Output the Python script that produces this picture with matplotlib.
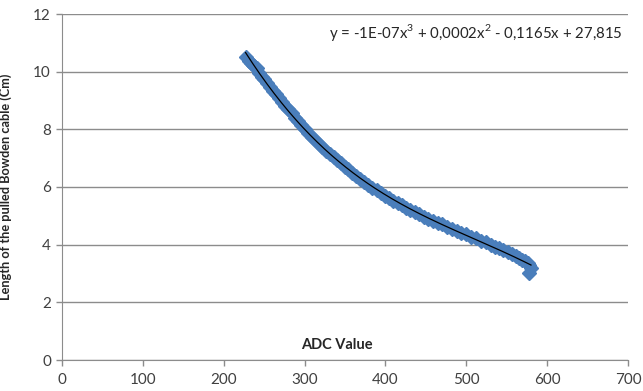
"""
ADC value vs. pulled Bowden cable length, with cubic trendline (Excel-style).
"""

import matplotlib
matplotlib.use("Agg")
import matplotlib.pyplot as plt
import numpy as np

adc_value = [227, 231, 234, 236, 238, 241, 244, 247, 250, 253, 257, 261, 265, 268,
             272, 276, 280, 284, 288, 292, 296, 300, 304, 309, 313, 318, 322, 327,
             331, 336, 340, 345, 350, 354, 359, 364, 369, 374, 379, 384, 389, 394,
             399, 404, 409, 415, 420, 426, 431, 437, 442, 448, 453, 459, 465, 470,
             476, 482, 488, 494, 500, 506, 512, 518, 524, 530, 536, 541, 546, 551,
             556, 561, 565, 569, 573, 576, 578, 580, 578]
cable_length = [10.52, 10.38, 10.30, 10.22, 10.20, 10.12, 9.95, 9.80, 9.74, 9.62,
                9.48, 9.33, 9.22, 9.10, 8.96, 8.82, 8.70, 8.56, 8.40, 8.28, 8.15,
                8.02, 7.88, 7.74, 7.63, 7.50, 7.40, 7.26, 7.16, 7.05, 6.95, 6.82,
                6.71, 6.62, 6.50, 6.39, 6.28, 6.18, 6.07, 5.98, 5.89, 5.80, 5.70,
                5.62, 5.53, 5.45, 5.36, 5.27, 5.21, 5.12, 5.05, 4.97, 4.90, 4.83,
                4.75, 4.71, 4.62, 4.55, 4.48, 4.42, 4.36, 4.28, 4.22, 4.14, 4.08,
                4.00, 3.93, 3.88, 3.80, 3.74, 3.68, 3.62, 3.55, 3.48, 3.42, 3.35,
                3.28, 3.18, 3.03]
x_ticks = [0, 100, 200, 300, 400, 500, 600, 700]
y_ticks = [0, 2, 4, 6, 8, 10, 12]
equation = "y = -1E-07x$^3$ + 0,0002x$^2$ - 0,1165x + 27,815"

plt.rcParams["font.family"] = ["Lato", "DejaVu Sans"]
plt.rcParams["mathtext.fontset"] = "custom"
plt.rcParams["mathtext.rm"] = "Lato"

fig = plt.figure(figsize=(6.43, 3.91), dpi=100)
ax = fig.add_axes([62 / 643, 31 / 391, 566 / 643, 346 / 391])

ax.plot(adc_value, cable_length, linestyle="none", marker="D", markersize=6.8,
        color="#4A7EBB", markeredgecolor="#4A7EBB", zorder=3)

# cubic trendline fitted to the data
coef = np.polyfit(adc_value, cable_length, 3)
xs = np.linspace(min(adc_value), max(adc_value), 200)
ax.plot(xs, np.polyval(coef, xs), color="black", linewidth=0.9, zorder=4)

ax.set_xlim(0, 700)
ax.set_ylim(0, 12)
ax.set_xticks(x_ticks)
ax.set_yticks(y_ticks)
ax.grid(axis="y", color="#8C8C8C", linewidth=1.0)
ax.set_axisbelow(True)
for side in ("top", "right"):
    ax.spines[side].set_visible(False)
for side in ("left", "bottom"):
    ax.spines[side].set_color("#8C8C8C")
ax.tick_params(colors="#8C8C8C", labelcolor="#404040", labelsize=11, length=4, width=1)
ax.tick_params(axis="y", pad=4)
ax.tick_params(axis="x", pad=5)

ax.set_ylabel("Length of the pulled Bowden cable (Cm)", fontsize=9.2, fontweight="bold",
              color="#262626")
ax.yaxis.set_label_coords(-0.088, 0.5)
ax.text(0.486, 0.043, "ADC Value", transform=ax.transAxes, ha="center", va="center",
        fontsize=10.5, fontweight="bold", color="#262626")
ax.text(0.731, 0.947, equation, transform=ax.transAxes, ha="center", va="center",
        fontsize=10.8, color="#262626")

fig.savefig("out.png", dpi=100)
